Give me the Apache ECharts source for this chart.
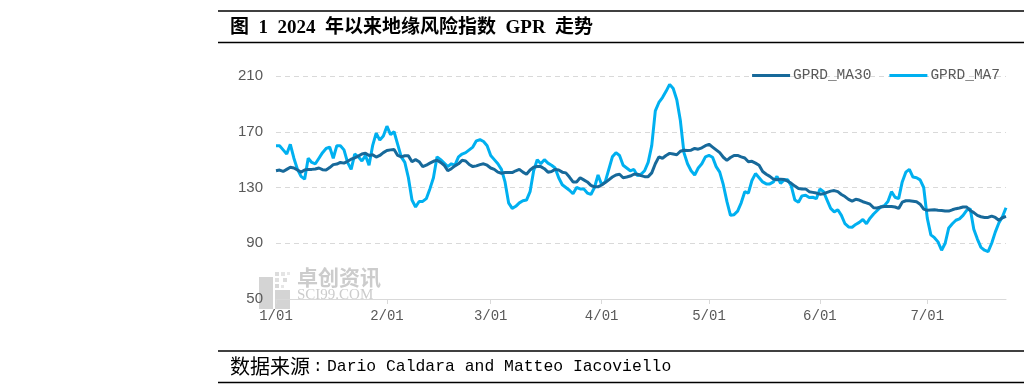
<!DOCTYPE html>
<html>
<head>
<meta charset="utf-8">
<script src="https://cdn.jsdelivr.net/npm/echarts@6/dist/echarts.min.js"></script>
<style>
html,body{margin:0;padding:0;background:#fff;}
#chart{width:1024px;height:391px;}
</style>
</head>
<body>
<div id="chart"></div>
<script>
// ---- data ----
const seriesNames = ['GPRD_MA30', 'GPRD_MA7'];
const tickLabels = ['1/01', '2/01', '3/01', '4/01', '5/01', '6/01', '7/01'];
const yTicks = [50, 90, 130, 170, 210];

// GPRD_MA30, daily from 2024-01-01
const ma30 = [
  142,142.5,141.5,143,144.5,144,142.5,141,142.5,143,
  143,143.3,144,142.8,142.6,144.3,146.4,146.8,148,147.5,
  148.8,150.3,151.3,152.5,154,154.6,152.9,153.5,151.8,153,
  155,156.5,157,157.3,153,152,152.8,152.7,148.5,150,
  148.5,145,146,147.5,148.8,149.5,148,146,142,143.5,
  145.5,147,149.5,149,146.5,145,145.5,146.4,147,146,
  144,143,141,140.2,140.7,140.8,140.7,142,143,141,
  139.5,142.6,144.5,145,145,143.5,141,141.5,143,142.5,
  141,140.5,137.5,134,134,137,135.5,134,131.5,130.5,
  130.5,131.8,133.5,135.5,137.5,139,139.5,137,137.5,138.2,
  139.5,139.5,138.5,137.8,137.8,140.5,147,152,151,153,
  154.5,154,153.5,156,156.7,156.5,156.8,158,157.5,158.5,
  160,161,159,157,155,151.7,149.5,151.5,153,153,
  152,151.2,148.5,148.8,147.5,146,141.5,139.5,138,136,
  135.5,136,135.7,134.5,133,131,129.3,129,129,127,
  126.5,126,125.2,125.5,126.5,127.4,127.8,127,125,123.5,
  121.5,120.2,121.5,121,119.8,119,118,115.5,115.3,116,
  116.4,116.4,116.4,116,115,119.5,120.5,120.5,120.2,119.8,
  118,114.5,113.6,113.8,114,113.7,113.5,113.1,113.1,114,
  114.8,115.3,116,116,113.5,112,110,109,108.5,108.5,
  109.5,108.5,106.5,108.3,109.3
];

// GPRD_MA7, daily from 2024-01-01
const ma7 = [
  160,160,157,154,161,151,143,138,136,151,
  148,147,151,155,158,159,151,160,160,157,
  148,143,154,152,149,153,146,160,169,164,
  167,174,168,170,161,152,148,137,121,116,
  120,120,122,129,137,152,150,147.5,145,147,
  146,152,154,155,157,159,163.5,164.3,163,160,
  153,150,147,143,134,119,115,116.5,119,120.5,
  121,127,142,150,147,150,147.5,146,144,137,
  132,130,128,125.5,130,129,129,126,125,130,
  139,132,134,143,152,155,153,146,144,142,
  143,138.5,139.5,142,148,160,185,191,194.5,199,
  204,201,193,178,155,147,142,139,144,147,
  152,153,151.7,145,141,132,120,110,110.5,113,
  119,127,126,135,140,137,134,132.6,132.6,134,
  138,133,135.5,135.5,131,121,119.5,124,124.5,122.8,
  123,122,129,127,121,115,112.5,114,110,104,
  101.7,101.5,103.5,105,107,104,108,111,113.5,116,
  117,120,127,123,122,134,141,143,137.5,137,
  135.5,130,108,96,94,91,85,90,101,104,
  106.5,107.5,110,113.6,114.8,100,93,87,85,84,
  90,98,104.5,109,115.5
];

// category dates (one per daily value)
const categories = [];
for (let i = 0; i < ma30.length; i++) {
  const d = new Date(Date.UTC(2024, 0, 1 + i));
  categories.push(d.toISOString().slice(0, 10));
}

const isMonthStart = (idx, val) => categories[idx].slice(8, 10) === '01';

const chart = echarts.init(document.getElementById('chart'), null, {renderer: 'canvas'});

const option = {
  animation: false,
  backgroundColor: '#ffffff',
  grid: {left: 276, right: 18, top: 76, bottom: 92, containLabel: false},
  legend: {
    right: 24,
    top: 68,
    padding: 0,
    itemGap: 18,
    itemWidth: 38,
    itemHeight: 3,
    icon: 'rect',
    textStyle: {fontFamily: 'Liberation Mono', fontSize: 14.5, color: '#595959', padding: [0, 0, 0, -2]},
    data: seriesNames
  },
  xAxis: {
    type: 'category',
    boundaryGap: false,
    data: categories,
    axisLine: {show: true, lineStyle: {color: '#d9d9d9', width: 1}},
    axisTick: {show: true, interval: isMonthStart, length: 5, lineStyle: {color: '#d9d9d9'}},
    axisLabel: {
      interval: isMonthStart,
      margin: 10,
      color: '#595959',
      fontFamily: 'Liberation Mono',
      fontSize: 14,
      formatter: v => tickLabels[parseInt(v.slice(5, 7), 10) - 1]
    },
    splitLine: {show: false}
  },
  yAxis: {
    type: 'value',
    min: yTicks[0],
    max: yTicks[yTicks.length - 1],
    interval: 40,
    axisLine: {show: false},
    axisTick: {show: false},
    axisLabel: {color: '#595959', fontFamily: 'Liberation Sans', fontSize: 15, margin: 13},
    splitLine: {show: true, lineStyle: {color: '#d9d9d9', type: [5, 4], width: 1}}
  },
  series: [
    {
      name: seriesNames[0], type: 'line', data: ma30, symbol: 'none', z: 3,
      lineStyle: {color: '#17699a', width: 3}, itemStyle: {color: '#17699a'}
    },
    {
      name: seriesNames[1], type: 'line', data: ma7, symbol: 'none', z: 2,
      lineStyle: {color: '#00b0f0', width: 3}, itemStyle: {color: '#00b0f0'}
    }
  ],
  graphic: [
    // title rules
    {type: 'line', shape: {x1: 218, y1: 11, x2: 1024, y2: 11}, style: {stroke: '#000', lineWidth: 1.3}, silent: true},
    {type: 'line', shape: {x1: 218, y1: 42.5, x2: 1024, y2: 42.5}, style: {stroke: '#000', lineWidth: 1.3}, silent: true},
    {type: 'text', left: 230, top: 19, silent: true,
      style: {text: '图\u20021\u20022024\u2002年以来地缘风险指数\u2002GPR\u2002走势', fill: '#000',
        font: 'bold 19px "Liberation Serif", "Noto Sans CJK SC"'}},
    // footer rules
    {type: 'line', shape: {x1: 218, y1: 351, x2: 1024, y2: 351}, style: {stroke: '#000', lineWidth: 1.3}, silent: true},
    {type: 'line', shape: {x1: 218, y1: 382.5, x2: 1024, y2: 382.5}, style: {stroke: '#000', lineWidth: 1.3}, silent: true},
    {type: 'text', left: 230, top: 356, silent: true,
      style: {text: '数据来源', fill: '#000', font: '20px "Noto Sans CJK SC"'}},
    {type: 'text', left: 313, top: 359, silent: true,
      style: {text: ':', fill: '#000', font: '16px "Liberation Mono"'}},
    {type: 'text', left: 327, top: 359, silent: true,
      style: {text: 'Dario Caldara and Matteo Iacoviello', fill: '#000', font: '16.4px "Liberation Mono"'}},
    // watermark
    {type: 'group', silent: true, z: -1, children: [
      {type: 'rect', shape: {x: 259, y: 277, width: 14, height: 32}, style: {fill: '#d4d4d4'}},
      {type: 'rect', shape: {x: 275, y: 272, width: 4, height: 4}, style: {fill: '#dcdcdc'}},
      {type: 'rect', shape: {x: 281, y: 272, width: 4, height: 4}, style: {fill: '#e4e4e4'}},
      {type: 'rect', shape: {x: 287, y: 272, width: 3, height: 3}, style: {fill: '#e8e8e8'}},
      {type: 'rect', shape: {x: 275, y: 278, width: 4, height: 4}, style: {fill: '#e0e0e0'}},
      {type: 'rect', shape: {x: 283, y: 278, width: 4, height: 4}, style: {fill: '#dcdcdc'}},
      {type: 'rect', shape: {x: 275, y: 284, width: 4, height: 4}, style: {fill: '#d8d8d8'}},
      {type: 'rect', shape: {x: 281, y: 285, width: 3, height: 3}, style: {fill: '#e6e6e6'}},
      {type: 'rect', shape: {x: 275, y: 290, width: 15, height: 19}, style: {fill: '#d4d4d4'}},
      {type: 'text', x: 297, y: 267, style: {text: '卓创资讯', fill: '#cccccc', font: 'bold 21px "Noto Sans CJK SC"'}},
      {type: 'text', x: 297, y: 288, style: {text: 'SCI99.COM', fill: '#cccccc', font: '15px "Liberation Serif"'}}
    ]}
  ]
};

chart.setOption(option);
</script>
</body>
</html>
